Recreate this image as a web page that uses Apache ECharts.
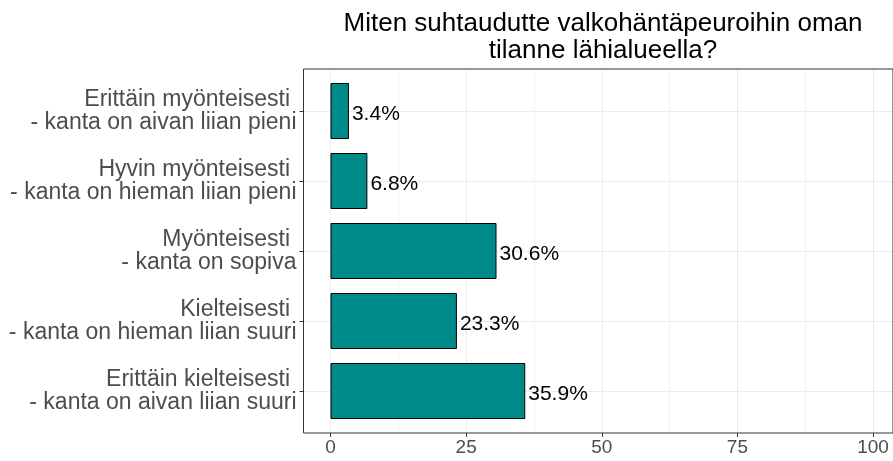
<!DOCTYPE html>
<html>
<head>
<meta charset="utf-8">
<script src="https://cdn.jsdelivr.net/npm/echarts@6/dist/echarts.min.js"></script>
<style>
  html, body { margin: 0; padding: 0; background: #fff; }
  #chart { width: 893px; height: 461px; }
</style>
</head>
<body>
<div id="chart"></div>
<script>
// data
const categories = [
  'Erittäin myönteisesti \n- kanta on aivan liian pieni',
  'Hyvin myönteisesti \n- kanta on hieman liian pieni',
  'Myönteisesti \n- kanta on sopiva',
  'Kielteisesti \n- kanta on hieman liian suuri',
  'Erittäin kielteisesti \n- kanta on aivan liian suuri'
]
const shares = [3.4, 6.8, 30.6, 23.3, 35.9]
const xTicks = [0, 25, 50, 75, 100]
const titleText = 'Miten suhtaudutte valkohäntäpeuroihin oman\ntilanne lähialueella?'

const font = 'Liberation Sans, Arial, sans-serif'
const gridColor = '#EBEBEB'
const darkGray = '#333333'
const labelGray = '#4D4D4D'

// panel geometry (ggplot-style expansion: 5% on x, 0.6 band on y)
const panel = { left: 303.5, right: -7, top: 69, bottom: 28 }
const inner = { left: 330.5, right: 20 }
const band = 70

const chart = echarts.init(document.getElementById('chart'))

chart.setOption({
  backgroundColor: '#fff',
  animation: false,
  title: {
    text: titleText,
    left: 598,
    top: 5,
    textAlign: 'center',
    textStyle: {
      fontFamily: font,
      fontSize: 26,
      fontWeight: 'normal',
      color: '#000',
      lineHeight: 27
    }
  },
  grid: [
    // 0: panel border
    { left: panel.left, right: panel.right, top: panel.top, bottom: panel.bottom,
      show: true, borderColor: darkGray, borderWidth: 1, backgroundColor: 'transparent', z: 5 },
    // 1: vertical grid lines + x labels
    { left: inner.left, right: inner.right, top: panel.top, bottom: panel.bottom },
    // 2: horizontal grid lines + y labels
    { left: panel.left, right: panel.right, top: panel.top + band * 0.6, height: band * (categories.length - 1) },
    // 3: bars
    { left: inner.left, right: inner.right, top: panel.top + band * 0.1, height: band * categories.length }
  ],
  xAxis: [
    { gridIndex: 0, type: 'value', show: false },
    {
      gridIndex: 1, type: 'value', min: xTicks[0], max: xTicks[xTicks.length - 1], interval: 25,
      axisLine: { show: false },
      axisTick: { show: true, length: 4, lineStyle: { color: darkGray } },
      axisLabel: { color: labelGray, fontFamily: font, fontSize: 19, margin: 5 },
      splitLine: { show: true, lineStyle: { color: gridColor, width: 1 } },
      minorTick: { show: false, splitNumber: 2 },
      minorSplitLine: { show: true, lineStyle: { color: '#F2F2F2', width: 1 } }
    },
    { gridIndex: 2, type: 'value', show: false },
    { gridIndex: 3, type: 'value', min: 0, max: 100, show: false }
  ],
  yAxis: [
    { gridIndex: 0, type: 'value', show: false },
    { gridIndex: 1, type: 'value', show: false },
    {
      gridIndex: 2, type: 'category', data: categories, inverse: true, boundaryGap: false,
      axisLine: { show: false },
      axisTick: { show: true, length: 4, lineStyle: { color: darkGray } },
      axisLabel: { color: labelGray, fontFamily: font, fontSize: 23, lineHeight: 23, margin: 7, align: 'right' },
      splitLine: { show: true, lineStyle: { color: gridColor, width: 1 } }
    },
    { gridIndex: 3, type: 'category', data: categories, inverse: true, show: false }
  ],
  series: [
    {
      type: 'bar',
      xAxisIndex: 3,
      yAxisIndex: 3,
      data: shares,
      barWidth: band * 0.8,
      itemStyle: { color: '#008B8B', borderColor: '#000', borderWidth: 1 },
      label: {
        show: true,
        position: 'right',
        distance: 3,
        offset: [0, 3],
        formatter: p => p.value.toFixed(1) + '%',
        color: '#000',
        fontFamily: font,
        fontSize: 21
      },
      z: 3
    }
  ]
})
</script>
</body>
</html>
